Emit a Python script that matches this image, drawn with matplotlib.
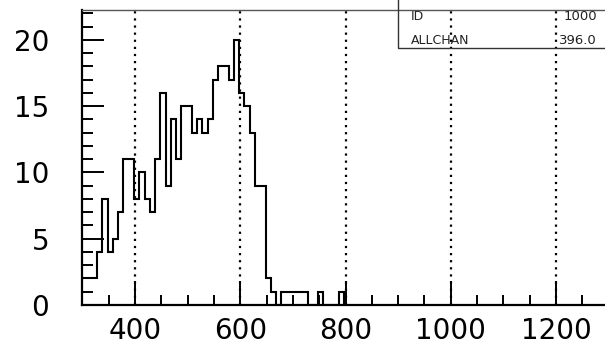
import numpy as np
import matplotlib
matplotlib.use("Agg")
import matplotlib.pyplot as plt
from matplotlib.patches import Rectangle
from matplotlib.ticker import MultipleLocator

# histogram ID 1000, ALLCHAN (10-unit bins, first bin starts at 298)
bin_start = 298
bin_width = 10
counts = [2, 2, 2, 4, 8, 4, 5, 7, 11, 11,
          8, 10, 8, 7, 11, 16, 9, 14, 11, 15,
          15, 13, 14, 13, 14, 17, 18, 18, 17, 20,
          16, 15, 13, 9, 9, 2, 1, 0, 1, 1,
          1, 1, 1, 0, 0, 1, 0, 0, 0, 1]
grid_x = [400, 600, 800, 1000, 1200]
stats_names = ['ID', 'ALLCHAN']
stats_values = ['1000', '396.0']

edges = bin_start + bin_width * np.arange(len(counts) + 1)

plt.rcParams['font.family'] = ['DejaVu Sans']

fig = plt.figure(figsize=(6.05, 3.44), dpi=100)
ax = fig.add_axes([0.1362, 0.1134, 0.8638, 0.8576])

ax.stairs(counts, edges, color='black', linewidth=1.5)

for gx in grid_x:
    ax.axvline(gx, color='black', linestyle=(0, (1, 2.2)), linewidth=1.6, zorder=0)

ax.set_xlim(300, 1293)
ax.set_ylim(0, 22.25)

ax.xaxis.set_major_locator(MultipleLocator(200))
ax.xaxis.set_minor_locator(MultipleLocator(50))
ax.yaxis.set_major_locator(MultipleLocator(5))
ax.yaxis.set_minor_locator(MultipleLocator(1))

ax.tick_params(axis='both', which='both', direction='in', color='black',
               width=1.4, labelsize=20, top=False, right=False)
ax.tick_params(axis='x', which='major', length=17, pad=9)
ax.tick_params(axis='x', which='minor', length=7.5)
ax.tick_params(axis='y', which='major', length=16, pad=24)
ax.tick_params(axis='y', which='minor', length=8)

ax.spines['right'].set_visible(False)
ax.spines['left'].set_linewidth(1.6)
ax.spines['bottom'].set_linewidth(1.6)
ax.spines['top'].set_linewidth(1.0)
ax.spines['top'].set_color('#555555')

# statistics box in the top right corner (grid lines show through it)
box = Rectangle((0.604, 0.871), 0.5, 0.2, transform=ax.transAxes,
                facecolor='none', edgecolor='#333333', linewidth=1.0,
                clip_on=False, zorder=3)
ax.add_patch(box)
for i, (name, val) in enumerate(zip(stats_names, stats_values)):
    y = 0.978 - i * 0.08
    ax.text(0.628, y, name, transform=ax.transAxes, fontsize=9,
            va='center', ha='left', zorder=4, color='#222222')
    ax.text(0.985, y, val, transform=ax.transAxes, fontsize=9.5,
            va='center', ha='right', zorder=4, color='#222222')

fig.savefig('out.png', dpi=100)
